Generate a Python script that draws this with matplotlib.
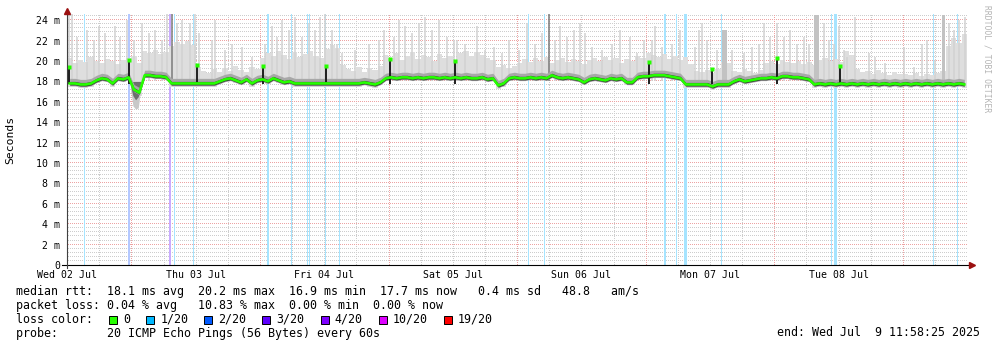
import numpy as np
import matplotlib.pyplot as plt
from matplotlib.patches import Rectangle

W, H, DPI = 997, 347, 100

# one week, hour 0 = Wed 02 Jul 11:58:25
median_ms = [
    17.8, 17.8, 17.7, 17.7, 17.8,
    18.1, 18.3, 18.2, 17.8, 18.3, 18.2, 18.4,
    17.2, 16.9,
    18.6, 18.6, 18.5, 18.5, 18.4,
    17.8, 17.8, 17.8, 17.8, 17.8, 17.8, 17.8, 17.8, 17.8,
    18.0, 18.2, 18.3, 18.1, 17.9, 18.2, 17.8, 18.1,
    18.2, 18.0, 18.3, 18.1, 17.9, 18.0,
    17.8, 17.8, 17.8, 17.8, 17.8, 17.8, 17.8, 17.8, 17.8, 17.8, 17.8, 17.8, 17.8,
    17.9, 17.8, 17.7, 17.9,
    18.3, 18.4, 18.3, 18.4, 18.4, 18.3, 18.4, 18.3, 18.4, 18.4, 18.3, 18.4, 18.3, 18.4,
    18.3, 18.4, 18.3, 18.3, 18.4, 18.2, 18.3,
    17.6, 17.8,
    18.3, 18.4, 18.3, 18.3, 18.4, 18.3, 18.4, 18.3, 18.6, 18.4, 18.3, 18.4, 18.3, 18.2,
    17.9, 18.2, 18.3, 18.2, 18.1, 18.3, 18.2, 18.3,
    17.9, 17.9,
    18.4, 18.5, 18.5, 18.6, 18.6,
    18.6, 18.5, 18.4, 18.3,
    17.7, 17.7, 17.7, 17.7, 17.7, 17.5, 17.7, 17.7, 17.7,
    18.0, 18.2, 18.0, 18.1, 18.2,
    18.3, 18.3, 18.4, 18.3,
    18.5, 18.5, 18.4, 18.4, 18.3, 18.2,
    17.7, 17.8, 17.7, 17.8, 17.7, 17.8, 17.7, 17.8, 17.7, 17.8, 17.7, 17.8, 17.7, 17.8,
    17.7, 17.8, 17.7, 17.8, 17.7, 17.8, 17.7, 17.8, 17.7, 17.8, 17.7, 17.8, 17.7, 17.8, 17.7,
]

smoke_top_ms = [
    20.3, 19.8, 20.1, 19.9, 20.4, 20.0, 19.8, 20.2, 20.0, 19.7, 20.1, 20.3,
    20.5, 19.8,
    21.0, 20.8, 21.1, 20.7, 20.9,
    21.5, 21.9, 21.7, 22.0, 21.6,
    19.4, 19.0, 18.8, 19.2, 18.9, 19.3, 19.0, 19.5, 19.1, 18.9, 19.4, 19.2,
    20.3, 20.8, 20.5, 21.0, 20.6, 20.2, 20.9, 20.4, 20.7, 21.0, 20.5, 20.3, 21.2, 21.6, 21.3,
    19.6, 19.2, 19.0, 19.4, 18.9, 19.3, 19.1, 19.5,
    20.6, 20.3, 20.8, 20.1, 20.5, 20.9, 20.2, 20.6, 20.4, 20.0, 20.7, 20.3, 20.5, 20.1,
    20.8, 21.0, 20.5, 20.9, 20.6, 20.3, 20.1,
    19.4, 19.6, 19.3, 19.5, 19.8,
    20.2, 19.9, 20.3, 20.0, 20.4, 19.8, 20.1, 20.3, 19.9, 20.2, 20.0, 19.7, 20.1,
    20.3, 20.0, 20.4, 20.1, 20.3, 19.8, 20.2, 20.0, 20.5, 20.3, 20.8, 20.6, 20.4, 20.7, 20.2,
    20.5, 20.1, 20.4, 19.7,
    19.0, 18.9, 19.1, 18.8, 19.2,
    19.9, 19.8,
    19.0, 18.9, 19.2, 19.0, 18.8, 19.1,
    19.8, 20.0, 19.7, 20.1, 19.9, 19.8, 20.0, 19.7, 19.9,
    19.6,
    20.1, 20.3, 20.0, 20.2, 19.9, 21.0, 20.6,
    19.2, 18.9, 19.0, 18.7, 19.1, 18.8, 18.6, 18.9, 18.7,
    18.7, 18.6, 18.8, 18.5, 18.7, 18.6, 18.8, 19.0,
    21.5, 22.3, 21.8, 22.6,
]

# the latency drop on Wednesday evening
dip_hours = [11.8, 12.3, 12.8, 13.3, 13.8]
dip_low_ms = [17.6, 15.6, 15.3, 15.4, 17.4]
dip_dense_ms = [17.7, 16.6, 16.2, 16.5, 17.6]

# single outlier pings
spike_hours = [
    0.4, 0.9, 1.9, 3.7, 5.0, 6.0, 7.1, 9.0, 9.9, 11.2, 12.5, 14.0, 15.3, 16.4,
    17.7, 18.7, 20.5, 21.5, 23.0, 23.9, 24.6, 27.1, 27.6, 29.5, 30.8, 32.7, 34.5,
    37.0, 38.3, 39.2, 40.1, 41.4, 42.6, 43.9, 45.2, 46.3, 47.2, 48.2, 49.5, 50.4,
    51.3, 53.8, 56.4, 58.2, 59.2, 61.0, 62.0, 63.1, 64.4, 65.7, 66.8, 68.1, 69.4,
    70.9, 72.2, 72.8, 74.3, 76.5, 78.0, 79.7, 81.2, 82.5, 84.4, 85.9, 87.4, 88.7,
    91.1, 92.0, 93.3, 94.6, 95.8, 96.7, 98.0, 99.9, 101.7, 103.2, 105.1, 106.4,
    107.7, 109.2, 109.8, 111.1, 113.0, 114.5, 117.2, 118.0, 118.5, 119.5, 121.3,
    124.1, 126.4, 127.9, 129.2, 130.1, 131.2, 132.5, 133.8, 135.0, 136.3, 137.6,
    138.5, 141.3, 142.2, 143.2, 144.1, 145.0, 145.6, 147.1, 149.7, 150.8, 152.7,
    156.2, 158.1, 159.6, 160.5, 162.0, 164.6, 165.6, 166.5, 167.6,
]
spike_top_ms = [
    24.6, 24.6, 22.4, 23.0, 22.1, 23.4, 22.7, 23.4, 22.4, 24.0, 22.1, 23.7, 22.7, 23.0,
    22.1, 24.6, 23.7, 24.0, 23.7, 24.6, 22.7, 22.1, 24.0, 21.1, 21.7, 21.4, 20.4,
    21.7, 23.4, 22.4, 24.0, 23.0, 24.3, 22.4, 23.7, 23.0, 24.3, 24.6, 23.0, 21.7,
    20.8, 21.1, 21.7, 22.1, 23.0, 22.4, 24.0, 23.4, 22.7, 23.7, 24.3, 23.0, 24.0,
    22.4, 22.1, 22.1, 21.7, 23.4, 21.1, 21.4, 20.8, 22.1, 21.1, 23.7, 21.7, 22.7,
    22.1, 23.4, 22.4, 23.0, 23.7, 22.7, 21.4, 21.1, 21.7, 23.0, 22.4, 20.8,
    22.1, 22.1, 23.4, 21.4, 21.7, 23.0, 21.4, 23.0, 23.7, 22.1, 21.1,
    21.1, 20.8, 21.4, 21.7, 23.7, 22.4, 23.7, 22.4, 23.0, 21.7, 22.4,
    21.7, 23.7, 22.1, 21.7, 23.4, 21.1, 20.4, 24.3, 20.8, 20.4, 19.8,
    21.4, 19.4, 21.7, 22.1, 20.1, 23.7, 23.0, 24.0, 24.3,
]

# short bursts where the whole sample jumps
burst_start = [122.3, 139.4, 163.3]
burst_end = [123.2, 140.4, 163.9]
burst_top_ms = [23.0, 24.5, 24.5]
tall_hours = [19.6, 89.9]
tall_top_ms = [24.6, 24.6]

# steps where the median itself jumped
jump_hours = [0.4, 11.6, 24.3, 36.6, 48.3, 60.3, 72.4, 108.6, 120.4, 132.5, 144.3]
jump_top_ms = [19.4, 20.1, 19.6, 19.5, 19.5, 20.2, 20.0, 19.9, 19.2, 20.3, 19.5]

# intervals with packet loss (loss count out of 20)
loss_hours = [3.2, 11.4, 19.0, 20.0, 23.5, 37.3, 41.8, 44.8, 45.2, 48.2, 50.8,
              86.1, 89.0, 111.4, 113.6, 115.2, 122.1, 142.6, 143.2, 161.7, 166.1]
loss_dur = [0.19, 0.38, 0.5, 0.19, 0.19, 0.45, 0.19, 0.19, 0.19, 0.19, 0.19,
            0.19, 0.19, 0.45, 0.19, 0.5, 0.19, 0.19, 0.45, 0.19, 0.19]
loss_count = [1, 2, 3, 1, 1, 1, 1, 1, 1, 1, 1, 1, 1, 1, 1, 1, 1, 1, 1, 1, 1]

day_labels = ["Wed 02 Jul", "Thu 03 Jul", "Fri 04 Jul", "Sat 05 Jul",
              "Sun 06 Jul", "Mon 07 Jul", "Tue 08 Jul"]
loss_names = ["0", "1/20", "2/20", "3/20", "4/20", "10/20", "19/20"]
loss_colors = ["#26ff00", "#00b8ff", "#0059ff", "#5e00ff", "#7e00ff", "#dd00ff", "#ff0000"]
loss_bg = {1: "#a6e4ff", 2: "#b4c8ff", 3: "#c9acff"}

MONO = "DejaVu Sans Mono"
first_midnight = 12 + 1 / 60 + 35 / 3600
mid = np.arange(168) + 0.5
edges = np.arange(169)
med = np.array(median_ms)
top = np.array(smoke_top_ms)

fig = plt.figure(figsize=(W / DPI, H / DPI), dpi=DPI)
ax = fig.add_axes([67 / W, (H - 265) / H, 900 / W, 250.9 / H])
ax.set_xlim(0, 168)
ax.set_ylim(0, 24.6)
for s in ax.spines.values():
    s.set_visible(False)

# dotted grid drawn pixel by pixel (one on, one off)
px_h = 168 / 900
px_v = 24.6 / 250.9
xs = np.arange(0, 168, 2 * px_h) + px_h / 2
ys = np.arange(0, 24.6, 2 * px_v) + px_v / 2
minor_h = [v for v in np.arange(0.4, 24.5, 0.4) if abs(v / 2 - round(v / 2)) > 1e-6]
major_h = list(range(2, 25, 2))
midnights = [first_midnight + 24 * k for k in range(7)]
minor_v = [first_midnight + 24 * k + q for k in range(-1, 7) for q in (6, 12, 18)]
minor_v = [t for t in minor_v if 0 < t < 168]


def dot_rows(levels, color):
    gx = np.tile(xs, len(levels))
    gy = np.repeat(levels, len(xs))
    ax.plot(gx, gy, ",", color=color, zorder=0)


def dot_cols(levels, color):
    gy = np.tile(ys, len(levels))
    gx = np.repeat(levels, len(ys))
    ax.plot(gx, gy, ",", color=color, zorder=0)


dot_rows(minor_h, "#cdcdcd")
dot_cols(minor_v, "#cdcdcd")
dot_rows(major_h, "#eda3a3")
dot_cols(midnights, "#eda3a3")

# loss background
for h0, d, n in zip(loss_hours, loss_dur, loss_count):
    ax.axvspan(h0, h0 + d, color=loss_bg[n], lw=0, zorder=1)

# smoke
ax.stairs(top, edges, baseline=med - 0.3, fill=True, color="#dedede", zorder=2)
ax.vlines(spike_hours, 18.0, spike_top_ms, color="#d2d2d2", lw=1.1, zorder=2)
for b0, b1, bt in zip(burst_start, burst_end, burst_top_ms):
    ax.add_patch(Rectangle((b0, 18.0), b1 - b0, bt - 18.0, color="#c2c2c2", lw=0, zorder=2))
ax.vlines(tall_hours, 18.0, tall_top_ms, color="#7a7a7a", lw=1.1, zorder=3)
ax.fill_between(dip_hours, dip_low_ms, 18.0, color="#c8c8c8", lw=0, zorder=3)
ax.fill_between(dip_hours, dip_dense_ms, 18.0, color="#6e6e6e", lw=0, zorder=3)
ax.fill_between(mid, med - 0.22, med + 0.5, color="#a8a8a8", lw=0, zorder=3)
ax.fill_between(mid, med - 0.15, med + 0.2, color="#3a3a3a", lw=0, zorder=3)
ax.vlines(jump_hours, 17.7, jump_top_ms, color="#1e1e1e", lw=1.4, zorder=4)

# median rtt
ax.plot(mid, med, color="#26ff00", lw=1.9, zorder=5)
ax.plot(jump_hours, jump_top_ms, "s", ms=2.2, color="#26ff00", mec="none", zorder=5)

# axes with arrow heads
ax.plot([-0.9, 168.4], [0, 0], color="black", lw=0.8, clip_on=False, zorder=6)
ax.plot([0, 0], [-0.3, 24.6], color="#404040", lw=0.8, clip_on=False, zorder=6)
ax.plot([168.9], [0], ">", color="#9b1010", ms=4, clip_on=False, zorder=7)
ax.plot([0], [24.95], "^", color="#9b1010", ms=4, clip_on=False, zorder=7)

ax.set_xticks([first_midnight - 12 + 24 * k for k in range(7)], day_labels,
              fontsize=7.1, family=MONO)
ax.set_yticks(range(0, 25, 2), ["0"] + ["%d m" % v for v in range(2, 25, 2)],
              fontsize=7.1, family=MONO)
ax.tick_params(length=0)
ax.tick_params(axis="x", pad=3.5)
ax.tick_params(axis="y", pad=5)

fig.text(10 / W, 1 - 140 / H, "Seconds", rotation=90, ha="center", va="center",
         fontsize=8.2, family=MONO)
fig.text(987 / W, 1 - 5 / H, "RRDTOOL / TOBI OETIKER", rotation=-90, ha="center",
         va="top", fontsize=5.8, family=MONO, color="#b4b4b4")


# legend block
def line(y, s, x=16, **kw):
    fig.text(x / W, 1 - y / H, s, fontsize=8.4, family=MONO, va="center", **kw)


line(292, "median rtt:  18.1 ms avg  20.2 ms max  16.9 ms min  17.7 ms now   0.4 ms sd   48.8   am/s")
line(305.5, "packet loss: 0.04 % avg   10.83 % max  0.00 % min  0.00 % now")
line(319.5, "loss color:")
line(333, "probe:       20 ICMP Echo Pings (56 Bytes) every 60s")
line(333, "end: Wed Jul  9 11:58:25 2025", x=980, ha="right")

lx = 123.3
for name, col in zip(loss_names, loss_colors):
    fig.add_artist(Rectangle(((lx - 14) / W, 1 - 323.5 / H), 8 / W, 8 / H, facecolor=col,
                             edgecolor="black", lw=0.7, transform=fig.transFigure))
    line(319.5, name, x=lx)
    lx += len(name) * 7.02 + 30

fig.savefig("out.png", dpi=DPI, facecolor="white")
